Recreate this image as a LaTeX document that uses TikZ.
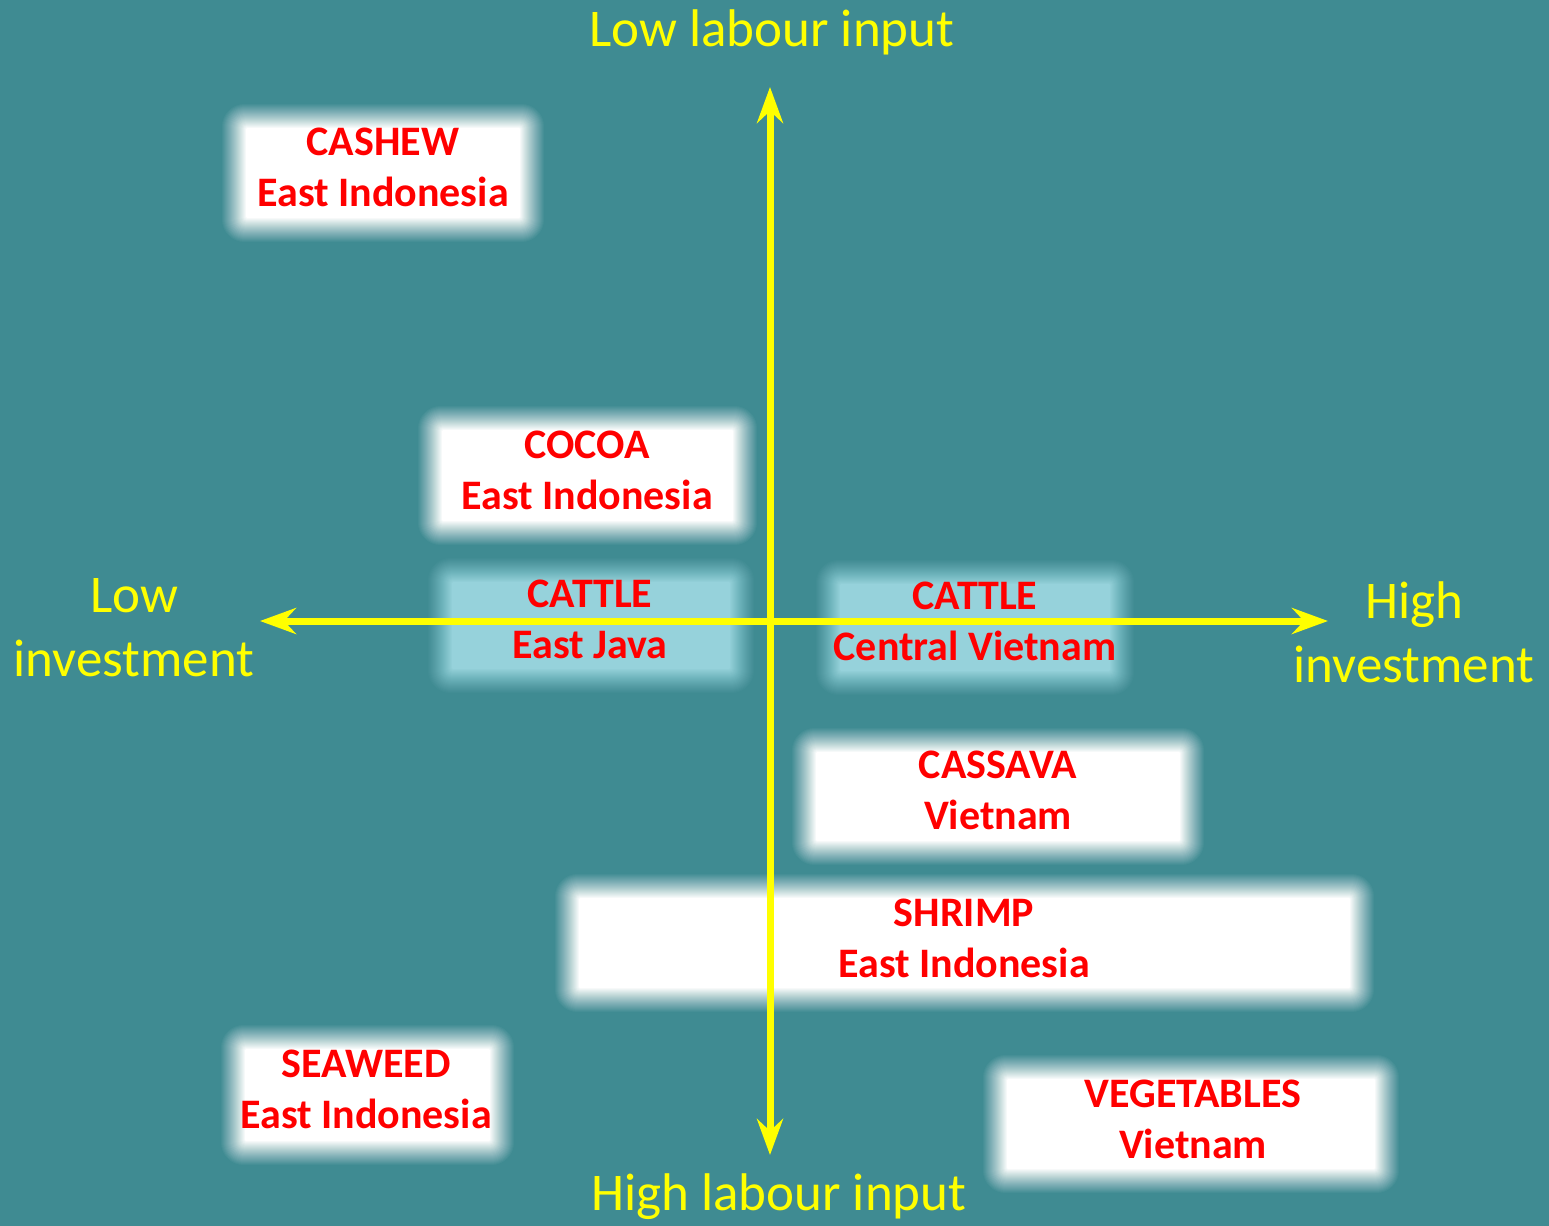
\documentclass[tikz,border=0pt]{standalone}
\usepackage{fontspec}
\setmainfont{Carlito}
\usetikzlibrary{arrows.meta,calc}
\definecolor{teal0}{HTML}{3F8B92}
\definecolor{paleblue}{HTML}{96D2DB}
\definecolor{axisyellow}{HTML}{FFFF00}
\definecolor{labelred}{HTML}{FF0000}
\tikzset{
  boxtext/.style={align=center, text=labelred, font=\fontsize{21}{25.5}\selectfont\bfseries, inner sep=0pt},
  axislabel/.style={align=center, text=axisyellow, font=\fontsize{26.5}{32}\selectfont, inner sep=0pt},
  axisline/.style={draw=axisyellow, line width=3.5pt, {Stealth[length=18pt,width=13pt,inset=6pt]}-{Stealth[length=18pt,width=13pt,inset=6pt]}}
}
% soft-edged box: name, x1, y1, x2, y2, fill colour, text x, text y, text
% stacked layers give a linear fade about 12 units either side of the edge
\newcommand\softbox[9]{%
  \foreach \k in {1,...,25}{%
    \pgfmathsetmacro\d{13-\k}%
    \pgfmathsetmacro\op{1/(26-\k)}%
    \pgfmathsetmacro\rr{0.5*(0.9*(\d+12)+1)}%
    \fill[#6, fill opacity=\op, rounded corners=\rr pt] (#2-\d,#3-\d) rectangle (#4+\d,#5+\d);
  }
  \node[boxtext] (#1) at (#7,#8) {#9};
}
\begin{document}
\begin{tikzpicture}[x=0.5pt,y=-0.5pt]
  \fill[teal0] (0,0) rectangle (1549,1226);
  \useasboundingbox (0,0) rectangle (1549,1226);

  % product boxes
  \softbox{cashew}{234}{116}{532}{230}{white}{383}{167}{CASHEW\\East Indonesia}
  \softbox{cocoa}{430}{418}{745}{533}{white}{587}{470}{COCOA\\East Indonesia}
  \softbox{cattlejava}{440}{570}{742}{681}{paleblue}{590}{619}{CATTLE\\East Java}
  \softbox{cattlevn}{828}{572}{1122}{683}{paleblue}{975}{621}{CATTLE\\Central Vietnam}
  \softbox{cassava}{804}{740}{1192}{853}{white}{998}{790}{CASSAVA\\Vietnam}
  \softbox{shrimp}{567}{886}{1362}{1000}{white}{964}{938}{SHRIMP\\East Indonesia}
  \softbox{seaweed}{233}{1037}{502}{1153}{white}{366}{1089}{SEAWEED\\East Indonesia}
  \softbox{veg}{995}{1067}{1387}{1181}{white}{1193}{1119}{VEGETABLES\\Vietnam}

  % axes
  \coordinate (top) at (770,87);
  \coordinate (bottom) at (770,1155);
  \coordinate (left) at (260,621);
  \coordinate (right) at (1328,621);
  \draw[axisline] (left) -- (right);
  \draw[axisline] (bottom) -- (top);

  % axis labels
  \node[axislabel] (lowlab) at (772,32) {Low labour input};
  \node[axislabel] (highlab) at (779,1197) {High labour input};
  \node[axislabel] (lowinv) at (134,628) {Low\\investment};
  \node[axislabel] (highinv) at (1414,632) {High\\investment};
\end{tikzpicture}
\end{document}
